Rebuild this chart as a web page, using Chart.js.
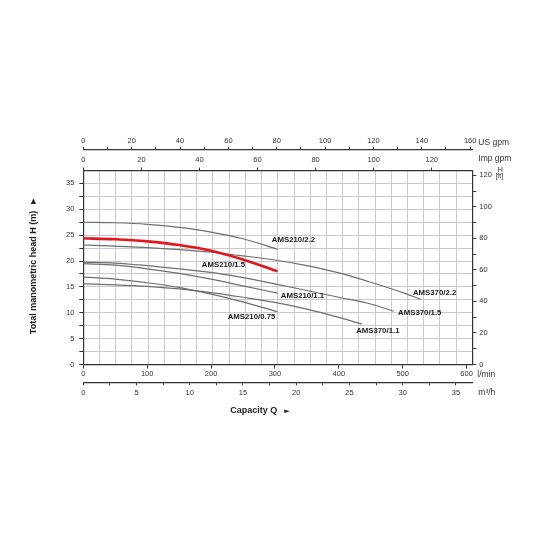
<!DOCTYPE html>
<html>
<head>
<meta charset="utf-8">
<script src="https://cdn.jsdelivr.net/npm/chart.js@4/dist/chart.umd.min.js"></script>
<style>html,body{margin:0;padding:0;background:#fff}canvas{display:block}</style>
</head>
<body>
<canvas id="c" width="540" height="540"></canvas>
<script>
// ---------------- data (capacity in l/min, head in m) ----------------
const curveNames = ['AMS210/1.5', 'AMS210/2.2', 'AMS210/1.1', 'AMS210/0.75', 'AMS370/2.2', 'AMS370/1.5', 'AMS370/1.1'];

const q210 = [0, 50, 100, 150, 200, 250, 304];
const h210_15 = [24.4, 24.2, 23.8, 23.1, 22.0, 20.3, 18.0];
const h210_22 = [27.5, 27.4, 27.1, 26.5, 25.6, 24.3, 22.3];
const h210_11 = [19.5, 19.2, 18.5, 17.6, 16.5, 15.2, 13.8];
const h210_075 = [16.9, 16.5, 15.8, 14.9, 13.6, 12.1, 10.2];

const q370_22 = [0, 50, 100, 150, 200, 250, 300, 350, 400, 450, 500, 528];
const h370_22 = [23.1, 22.9, 22.6, 22.2, 21.7, 21.0, 20.2, 19.1, 17.7, 15.9, 13.9, 12.6];
const q370_15 = [0, 50, 100, 150, 200, 250, 300, 350, 400, 450, 486];
const h370_15 = [19.8, 19.6, 19.1, 18.5, 17.8, 16.8, 15.6, 14.3, 13.0, 11.7, 10.3];
const q370_11 = [0, 50, 100, 150, 200, 250, 300, 350, 400, 436];
const h370_11 = [15.6, 15.4, 15.1, 14.6, 13.9, 13.0, 12.0, 10.7, 9.1, 7.8];

// tick labels
const lminTicks = [0, 100, 200, 300, 400, 500, 600];
const m3hTicks = [0, 5, 10, 15, 20, 25, 30, 35];
const usTicks = [0, 20, 40, 60, 80, 100, 120, 140, 160];
const impTicks = [0, 20, 40, 60, 80, 100, 120];
const mTicks = [0, 5, 10, 15, 20, 25, 30, 35];
const ftTicks = [0, 20, 40, 60, 80, 100, 120];

// ---------------- scale settings ----------------
const X_MAX = 609;      // l/min at right edge of the plot
const Y_MAX = 37.5;     // m at top edge of the plot
const LMIN_PER_M3H = 1000 / 60;
const LMIN_PER_USGPM = 3.78541;
const LMIN_PER_IMPGPM = 4.54609;
const FT_PER_M = 3.28084;

const FONT = "'Liberation Sans', Arial, Helvetica, sans-serif";
const INK = '#333';
const GRID = '#c9c9c9';
const tickFont = { family: FONT, size: 7.5 };

function stepRange(a, b, s) { const r = []; for (let v = a; v <= b + 1e-9; v += s) r.push(+v.toFixed(4)); return r; }
function setTicks(values) { return (scale) => { scale.ticks = values.map(v => ({ value: v })); }; }
function labelIf(list) { return (v) => list.includes(+(+v).toFixed(4)) ? String(v) : ''; }

function series(q, h) { return q.map((x, i) => ({ x: x, y: h[i] })); }

const curveData = [
  series(q210, h210_15), series(q210, h210_22), series(q210, h210_11), series(q210, h210_075),
  series(q370_22, h370_22), series(q370_15, h370_15), series(q370_11, h370_11)
];

// label offsets (px) from the curve end point: [dx, dy] to the label centre
const labelOffsets = [[-54, -7], [16, -9], [25, 3], [-26, 5], [14, -6], [26, 1.5], [16, 6.5]];

const datasets = curveData.map((d, i) => ({
  label: curveNames[i],
  data: d,
  borderColor: i === 0 ? '#e3161d' : '#6e6e6e',
  borderWidth: i === 0 ? 2.6 : 1.2,
  pointRadius: 0,
  fill: false,
  tension: 0.4,
  cubicInterpolationMode: 'monotone',
  xAxisID: 'x', yAxisID: 'y'
}));

const textPlugin = {
  id: 'texts',
  afterDraw(chart) {
    const ctx = chart.ctx, a = chart.chartArea, s = chart.scales;
    ctx.save();
    ctx.fillStyle = '#222';
    // left axis title
    ctx.save();
    ctx.translate(34, (a.top + a.bottom) / 2 - 2);
    ctx.rotate(-Math.PI / 2);
    ctx.font = 'bold 9px ' + FONT;
    ctx.textAlign = 'center'; ctx.textBaseline = 'middle';
    ctx.fillText('Total manometric head H (m)  \u25BA', 0, 0);
    ctx.restore();
    // bottom title
    ctx.font = 'bold 9px ' + FONT;
    ctx.textAlign = 'left'; ctx.textBaseline = 'middle';
    ctx.fillText('Capacity Q', a.left + 147, s.m3h.top + 28.5);
    ctx.font = '7px DejaVu Sans';
    ctx.fillText('\u25BA', a.left + 201, s.m3h.top + 28.5);
    // unit labels
    ctx.fillStyle = '#333';
    ctx.font = '8.5px ' + FONT;
    ctx.fillText('US gpm', a.right + 6, s.us.top + 14.5);
    ctx.fillText('Imp gpm', a.right + 6, s.imp.top + 9);
    ctx.fillText('l/min', a.right + 5, s.x.top + 10.5);
    ctx.fillText('m\u00B3/h', a.right + 6, s.m3h.top + 10);
    ctx.textAlign = 'center';
    ctx.font = '7.5px ' + FONT;
    ctx.fillText('H', a.right + 28, a.top - 1);
    ctx.font = '7px ' + FONT;
    ctx.fillText('[ft]', a.right + 27, a.top + 6);
    // curve labels
    ctx.fillStyle = '#1a1a1a';
    ctx.font = 'bold 7.8px ' + FONT;
    ctx.textAlign = 'center'; ctx.textBaseline = 'middle';
    chart.data.datasets.forEach((ds, i) => {
      const pts = chart.getDatasetMeta(i).data;
      const p = pts[pts.length - 1];
      ctx.fillText(ds.label, p.x + labelOffsets[i][0], p.y + labelOffsets[i][1]);
    });
    ctx.restore();
  }
};

const whiteBg = {
  id: 'bg',
  beforeDraw(chart) { const c = chart.ctx; c.save(); c.fillStyle = '#fff'; c.fillRect(0, 0, chart.width, chart.height); c.restore(); }
};

const axisBase = (extra) => Object.assign({
  type: 'linear',
  ticks: { font: tickFont, color: INK, autoSkip: false, maxRotation: 0, minRotation: 0 },
  border: { display: true, color: INK, width: 1.2 },
  grid: { drawOnChartArea: false, drawTicks: true, tickLength: 4, tickColor: INK, tickWidth: 1 }
}, extra);

new Chart(document.getElementById('c'), {
  type: 'line',
  data: { datasets: datasets },
  plugins: [whiteBg, textPlugin],
  options: {
    responsive: false,
    animation: false,
    events: [],
    layout: { padding: { top: 128, bottom: 123.7, left: 0, right: 0 } },
    plugins: { legend: { display: false }, tooltip: { enabled: false } },
    scales: {
      x: axisBase({
        position: 'bottom', min: 0, max: X_MAX,
        afterBuildTicks: setTicks(lminTicks),
        afterFit: (sc) => { sc.height = 17.8; },
        ticks: { font: tickFont, color: INK, autoSkip: false, maxRotation: 0, padding: 1, callback: labelIf(lminTicks) }
      }),
      m3h: axisBase({
        position: 'bottom', min: 0, max: X_MAX / LMIN_PER_M3H,
        afterBuildTicks: setTicks(stepRange(0, 35, 2.5)),
        afterFit: (sc) => { sc.height = 34; },
        grid: { drawOnChartArea: false, drawTicks: true, tickLength: 3, tickColor: INK, tickWidth: 1 },
        ticks: { font: tickFont, color: INK, autoSkip: false, maxRotation: 0, padding: 3, callback: labelIf(m3hTicks) }
      }),
      xg: {
        type: 'linear', position: 'bottom', min: 0, max: 24,
        afterBuildTicks: setTicks(stepRange(0, 24, 1)),
        afterFit: (sc) => { sc.height = 0; },
        ticks: { display: false },
        border: { display: false },
        grid: { color: GRID, lineWidth: 1, drawTicks: false, drawOnChartArea: true }
      },
      y: axisBase({
        position: 'left', min: 0, max: Y_MAX,
        afterBuildTicks: setTicks(stepRange(0, 37.5, 2.5)),
        afterFit: (sc) => { sc.width = 83.3; },
        grid: { drawOnChartArea: true, color: GRID, lineWidth: 1, drawTicks: true, tickLength: 4,
                tickColor: (c) => (c.tick && c.tick.value > 36) ? 'rgba(0,0,0,0)' : INK },
        ticks: { font: tickFont, color: INK, autoSkip: false, padding: 5, callback: labelIf(mTicks) }
      }),
      ft: axisBase({
        position: 'right', min: 0, max: Y_MAX * FT_PER_M,
        afterBuildTicks: setTicks(stepRange(0, 120, 10)),
        afterFit: (sc) => { sc.width = 67.7; },
        ticks: { font: tickFont, color: INK, autoSkip: false, padding: 3, callback: labelIf(ftTicks) }
      }),
      imp: axisBase({
        position: 'top', min: 0, max: X_MAX / LMIN_PER_IMPGPM,
        afterBuildTicks: setTicks(impTicks),
        afterFit: (sc) => { sc.height = 20.5; },
        grid: { drawOnChartArea: false, drawTicks: true, tickLength: 3, tickColor: INK, tickWidth: 1 },
        ticks: { font: tickFont, color: INK, autoSkip: false, maxRotation: 0, padding: 3, callback: labelIf(impTicks) }
      }),
      us: axisBase({
        position: 'top', min: 0, max: X_MAX / LMIN_PER_USGPM,
        afterBuildTicks: setTicks(stepRange(0, 160, 10)),
        afterFit: (sc) => { sc.height = 22; },
        grid: { drawOnChartArea: false, drawTicks: true, tickLength: 3, tickColor: INK, tickWidth: 1 },
        ticks: { font: tickFont, color: INK, autoSkip: false, maxRotation: 0, padding: 2, callback: labelIf(usTicks) }
      })
    }
  }
});
</script>
</body>
</html>
